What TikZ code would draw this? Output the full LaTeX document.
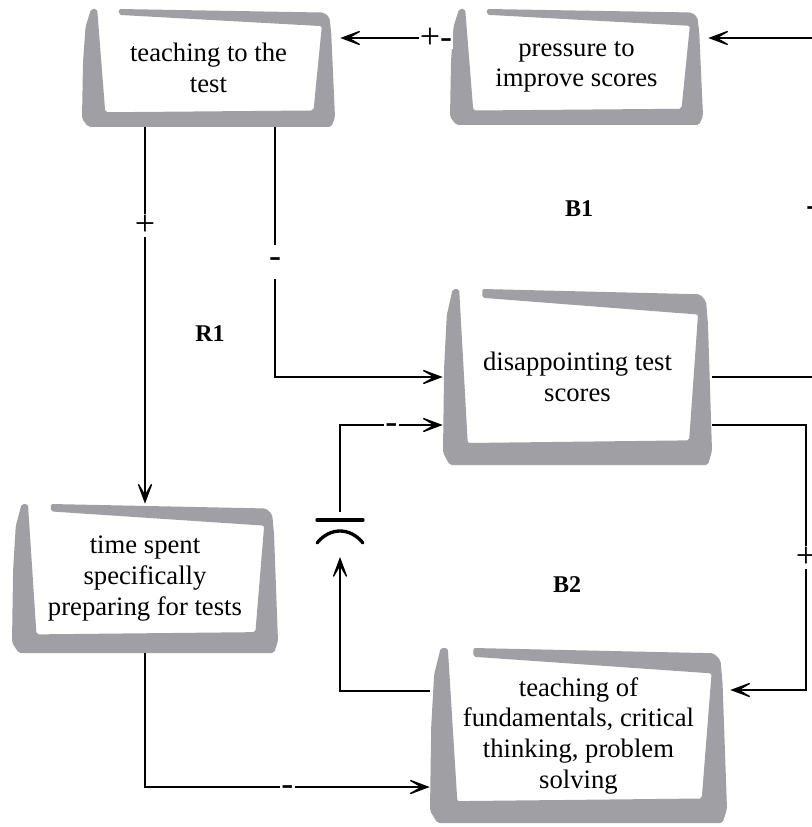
\documentclass[tikz,border=0pt]{standalone}
\usepackage{fontspec}
\setmainfont{Liberation Serif}
\usetikzlibrary{arrows.meta}
\definecolor{papergrey}{HTML}{A0A0A4}

% A variable on a curled sheet of paper: grey frame plus a named text node.
% #1 name, #2 left, #3 top, #4 right, #5 bottom, #6 text
\newcommand\paperbox[6]{%
  \pgfmathsetmacro\paperW{(#4-#2)*0.75}%
  \pgfmathsetmacro\paperH{(#5-#3)*0.75}%
  \begin{scope}[shift={(#2,#3)}, x=\paperW pt, y=-\paperH pt]
    \fill[papergrey, rounded corners=1.5pt]
      (0.036,0) -- (0.014,0.15) -- (0.004,0.45) -- (0,0.93) -- (0.025,1)
      -- (0.985,1) -- (1,0.92) -- (0.985,0.2) -- (0.978,0.07) -- (0.955,0.03)
      -- (0.146,0) -- (0.146,0.05) -- (0.948,0.145) -- (0.915,0.86)
      -- (0.092,0.875) -- (0.06,0) -- cycle;
  \end{scope}
  \node[boxtext, minimum width=\paperW pt, minimum height=\paperH pt]
    (#1) at ({(#2+#4)/2},{(#3+#5)/2}) {#6};
}

\begin{document}
\begin{tikzpicture}[x=0.75pt, y=-0.75pt,
  boxtext/.style={align=center, inner sep=0pt, font=\fontsize{20}{23}\selectfont},
  arr/.style={line width=1pt, -{Stealth[length=20pt, width=15pt, inset=13pt]}},
  polarity/.style={fill=white, inner sep=1pt, font=\fontsize{27}{30}\selectfont},
  minus/.style={polarity, minimum height=25pt, yshift=-3pt},
  loopname/.style={font=\bfseries\fontsize{18}{20}\selectfont},
  delaymark/.style={line width=2.5pt, line cap=round}]
\useasboundingbox (0,0) rectangle (812,827);

% variables
\paperbox{teach}{82}{9}{335}{127}{teaching to the\\test}
\paperbox{press}{450}{9}{703}{125}{pressure to\\improve scores}
\paperbox{disap}{443}{289}{712}{465}{disappointing test\\scores}
\paperbox{tspent}{12}{504}{278}{653}{time spent\\specifically\\preparing for tests}
\paperbox{fund}{430}{648}{727}{823}{teaching of\\fundamentals, critical\\thinking, problem\\solving}

% pressure -> teaching to the test
\draw[arr, shorten >=3.75pt] (press.west |- 0,38)
  -- node[polarity, pos=0.12] {+-} (teach.east |- 0,38);

% disappointing scores -> pressure, round the right-hand side
\draw[arr, shorten >=3.75pt] (disap.east) -- (814,0 |- disap.east)
  -- node[minus, xshift=-1.5pt] {-} (814,38) -- (press.east |- 0,38);

% teaching to the test -> time spent
\draw[arr] (teach.south -| tspent.north)
  -- node[polarity, pos=0.26] {+} (tspent.north);

% teaching to the test -> disappointing scores
\draw[arr] (275,0 |- teach.south) |- node[minus, pos=0.262] {-} (disap.west);

% disappointing scores -> teaching of fundamentals
\draw[arr, shorten >=2.25pt] (disap.east |- 0,425) -- (806,425)
  -- node[polarity] {+} (806,690) -- (fund.east |- 0,690);

% teaching of fundamentals -> disappointing scores, with a delay
\coordinate (dlow) at (340,557);
\coordinate (dhigh) at (340,512);
\draw[arr] (fund.west |- 0,691) -| (dlow);
\draw[arr] (dhigh) |- node[minus, pos=0.75] {-} (disap.west |- 0,425);
\draw[delaymark] (317,520) -- (363,520);
\draw[delaymark] (317,543) .. controls (330,527) and (350,527) .. (363,543);

% time spent -> teaching of fundamentals
\draw[arr] (tspent.south) |- node[minus, pos=0.75] {-} (fund.west |- 0,787);

% loop names
\node[loopname] (r1) at (210,334) {R1};
\node[loopname] (b1) at (579,209) {B1};
\node[loopname] (b2) at (567,585) {B2};
\end{tikzpicture}
\end{document}
